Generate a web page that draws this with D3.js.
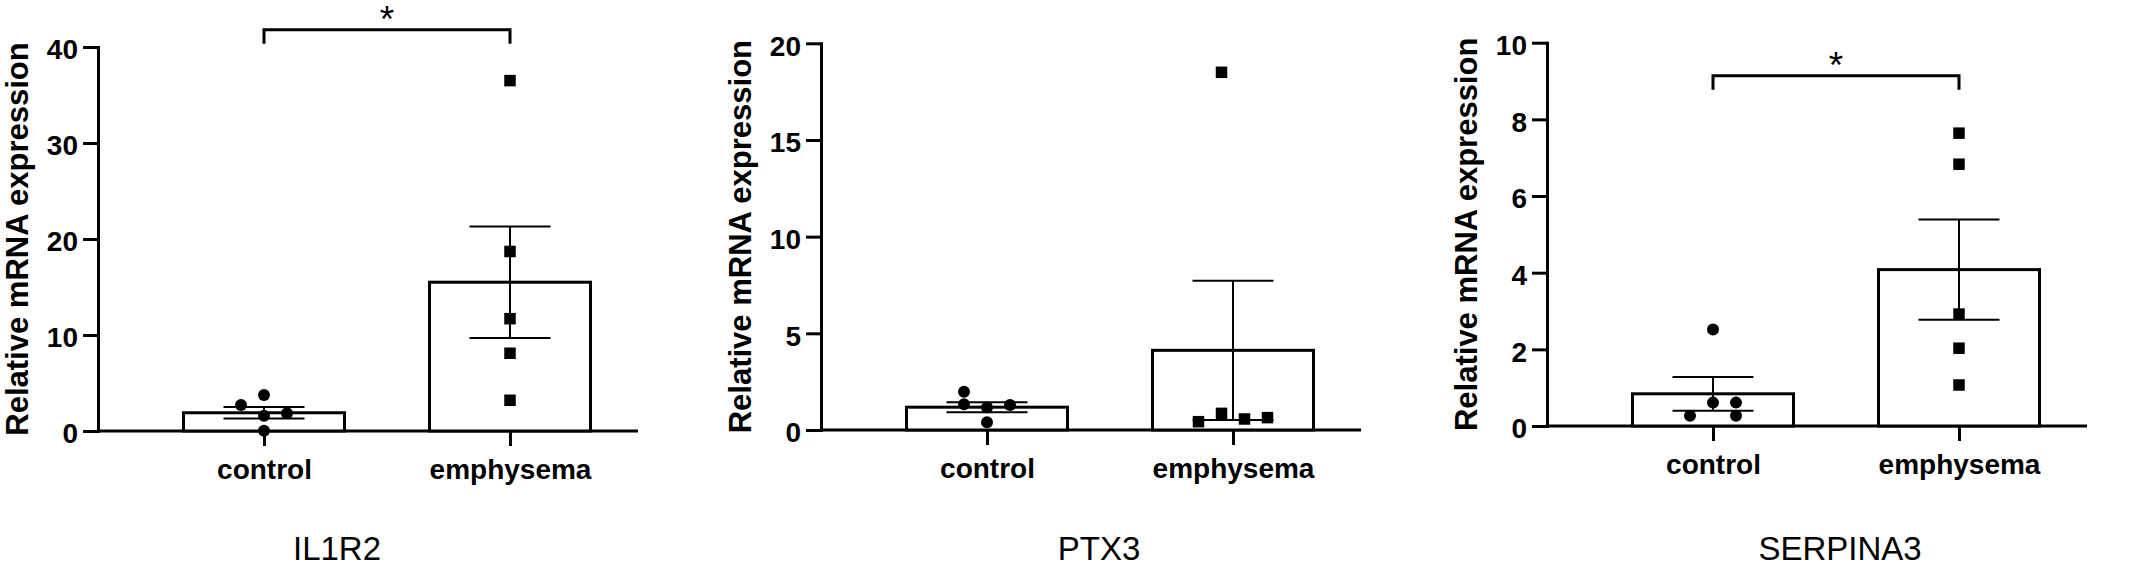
<!DOCTYPE html>
<html>
<head>
<meta charset="utf-8">
<script src="https://cdn.jsdelivr.net/npm/d3@7/dist/d3.min.js"></script>
<style>
  html, body { margin: 0; padding: 0; background: #fff; }
  svg { display: block; }
  text { font-family: "Liberation Sans", Arial, Helvetica, sans-serif; fill: #000; }
</style>
</head>
<body>
<svg id="chart" width="2133" height="566"></svg>
<script>
// ---------------- DATA ----------------
const categories = ["control", "emphysema"];
const genes = ["IL1R2", "PTX3", "SERPINA3"];
const yAxisTitle = "Relative mRNA expression";

const il1r2Ticks = [0, 10, 20, 30, 40];
const ptx3Ticks = [0, 5, 10, 15, 20];
const serpina3Ticks = [0, 2, 4, 6, 8, 10];

// bar heights (mean) and SEM for [control, emphysema]
const il1r2Mean = [1.9, 15.5];
const il1r2Sem = [0.6, 5.8];
const ptx3Mean = [1.18, 4.12];
const ptx3Sem = [0.26, 3.6];
const serpina3Mean = [0.84, 4.08];
const serpina3Sem = [0.44, 1.31];

// individual samples
const il1r2Control = [2.71, 3.75, 1.59, 1.84, 0.03];
const il1r2Emphysema = [36.5, 18.7, 11.7, 8.1, 3.2];
const ptx3Control = [1.98, 1.33, 1.17, 1.29, 0.40];
const ptx3Emphysema = [18.5, 0.43, 0.86, 0.57, 0.64];
const serpina3Control = [2.52, 0.61, 0.61, 0.27, 0.27];
const serpina3Emphysema = [7.64, 6.83, 2.92, 2.03, 1.07];

// significance brackets (level in data units), null = none
const sigLevel = [41.8, null, 9.14];
const sigLabel = ["*", "", "*"];

// ---------------- LAYOUT (not data) ----------------
const ticksAll = [il1r2Ticks, ptx3Ticks, serpina3Ticks];
const meanAll = [il1r2Mean, ptx3Mean, serpina3Mean];
const semAll = [il1r2Sem, ptx3Sem, serpina3Sem];
const pointsAll = [[il1r2Control, il1r2Emphysema], [ptx3Control, ptx3Emphysema], [serpina3Control, serpina3Emphysema]];
// horizontal scatter slots (multiples of spacing) to avoid overlap
const slotAll = [
  [[-1, 0, 0, 1, 0], [0, 0, 0, 0, 0]],
  [[-1, -1, 0, 1, 0], [-0.5, -1.5, -0.5, 0.5, 1.5]],
  [[0, 0, 1, -1, 1], [0, 0, 0, 0, 0]]
];
const slotSpacing = 23;

const panelAxisX = [98, 821, 1547];
const panelTop = [47, 43.3, 42.7];
const panelBottom = [431, 430, 426];
const geneLabelX = [337, 1099, 1840];
const axisLength = 540;
const barWidth = 161;
const capWidth = 81;

const svg = d3.select("#chart");

genes.forEach((gene, i) => {
  const ax = panelAxisX[i];
  const ticks = ticksAll[i];
  const y = d3.scaleLinear().domain([0, d3.max(ticks)]).range([panelBottom[i], panelTop[i]]);
  const x = d3.scalePoint().domain(categories).range([ax + 166, ax + 412]);
  const g = svg.append("g");

  // x baseline
  g.append("line")
    .attr("x1", ax).attr("x2", ax + axisLength)
    .attr("y1", y(0)).attr("y2", y(0))
    .attr("stroke", "#000").attr("stroke-width", 3);

  // bars
  g.selectAll("rect.bar").data(categories).join("rect")
    .attr("class", "bar")
    .attr("x", c => x(c) - barWidth / 2)
    .attr("width", barWidth)
    .attr("y", (c, j) => y(meanAll[i][j]))
    .attr("height", (c, j) => y(0) - y(meanAll[i][j]))
    .attr("fill", "#fff")
    .attr("stroke", "#000").attr("stroke-width", 3);

  // points
  categories.forEach((c, j) => {
    const vals = pointsAll[i][j];
    const slots = slotAll[i][j];
    if (j === 0) {
      g.selectAll(null).data(vals).join("circle")
        .attr("cx", (v, k) => x(c) + slots[k] * slotSpacing)
        .attr("cy", v => y(v))
        .attr("r", 6)
        .attr("fill", "#000");
    } else {
      const s = 11.5;
      g.selectAll(null).data(vals).join("rect")
        .attr("x", (v, k) => x(c) + slots[k] * slotSpacing - s / 2)
        .attr("y", v => y(v) - s / 2)
        .attr("width", s).attr("height", s)
        .attr("fill", "#000");
    }
  });

  // error bars (mean ± SEM)
  categories.forEach((c, j) => {
    const m = meanAll[i][j], e = semAll[i][j];
    const cx = x(c);
    const eg = g.append("g").attr("stroke", "#000").attr("stroke-width", 2);
    eg.append("line").attr("x1", cx).attr("x2", cx).attr("y1", y(m - e)).attr("y2", y(m + e));
    [m - e, m + e].forEach(v => {
      eg.append("line").attr("x1", cx - capWidth / 2).attr("x2", cx + capWidth / 2)
        .attr("y1", y(v)).attr("y2", y(v));
    });
  });

  // y axis
  const yAxis = g.append("g")
    .attr("transform", `translate(${ax},0)`)
    .call(d3.axisLeft(y).tickValues(ticks).tickSize(15).tickSizeOuter(0).tickPadding(5).tickFormat(d3.format("d")));
  yAxis.select(".domain").attr("stroke-width", 3).attr("stroke-linecap", "square");
  yAxis.selectAll(".tick line").attr("stroke-width", 3);
  yAxis.selectAll(".tick text")
    .attr("dy", "0.42em")
    .style("font-size", "28px").style("font-weight", "bold")
    .style("font-family", "'Liberation Sans', Arial, sans-serif");

  // x axis category ticks + labels
  const xAxis = g.append("g")
    .attr("transform", `translate(0,${y(0)})`)
    .call(d3.axisBottom(x).tickSize(15).tickPadding(13).tickSizeOuter(0));
  xAxis.select(".domain").remove();
  xAxis.selectAll(".tick line").attr("stroke-width", 3);
  xAxis.selectAll(".tick text")
    .style("font-size", "28px").style("font-weight", "bold")
    .style("font-family", "'Liberation Sans', Arial, sans-serif");

  // y axis title
  g.append("text")
    .attr("transform", `translate(${ax - 70},${(panelTop[i] + panelBottom[i]) / 2}) rotate(-90)`)
    .attr("text-anchor", "middle")
    .style("font-size", "31px").style("font-weight", "bold")
    .text(yAxisTitle);

  // gene label
  g.append("text")
    .attr("x", geneLabelX[i]).attr("y", 560)
    .attr("text-anchor", "middle")
    .style("font-size", "33px")
    .text(gene);

  // significance bracket
  if (sigLevel[i] !== null) {
    const by = y(sigLevel[i]);
    const x1 = x(categories[0]), x2 = x(categories[1]);
    g.append("path")
      .attr("d", `M${x1},${by + 14}V${by}H${x2}V${by + 14}`)
      .attr("fill", "none").attr("stroke", "#000").attr("stroke-width", 3);
    g.append("text")
      .attr("x", (x1 + x2) / 2).attr("y", by + 2)
      .attr("text-anchor", "middle")
      .style("font-size", "37px")
      .text(sigLabel[i]);
  }
});
</script>
</body>
</html>
